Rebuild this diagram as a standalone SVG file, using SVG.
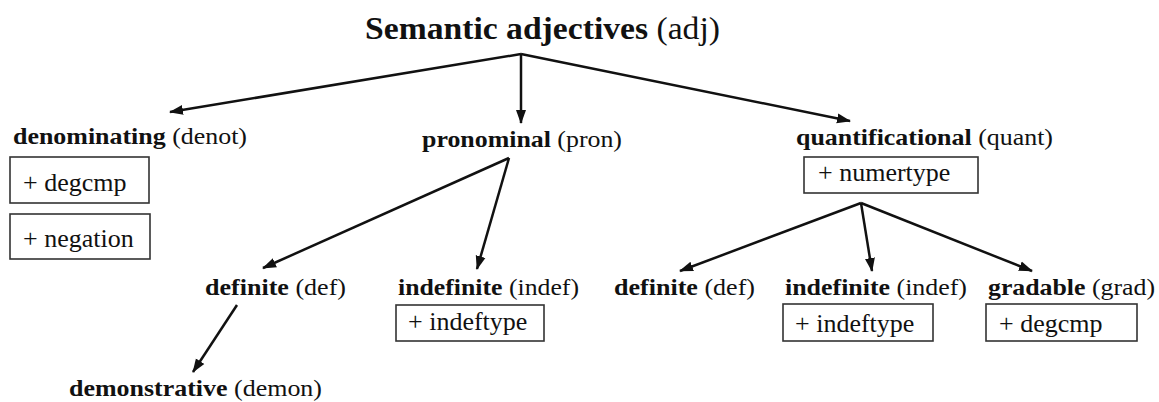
<svg xmlns="http://www.w3.org/2000/svg" width="1159" height="402" viewBox="0 0 1159 402">
<style>
text{font-family:"Liberation Serif","Times New Roman",serif;fill:#111;}
.t{font-size:31px;}
.l{font-size:24px;}
.b{font-weight:bold;}
.bx{font-size:26px;}
rect.box{fill:#fff;stroke:#333;stroke-width:1.6;}
.c line{stroke:#111;stroke-width:2.5;marker-end:url(#ah);}
</style>
<defs>
<marker id="ah" markerUnits="userSpaceOnUse" markerWidth="14" markerHeight="12" refX="13" refY="5" orient="auto" viewBox="0 0 14 10">
<path d="M0,0 L14,5 L0,10 z" fill="#111"/>
</marker>
</defs>
<rect x="0" y="0" width="1159" height="402" fill="#fff"/>
<g id="root"><text class="t" x="365" y="39" textLength="355" lengthAdjust="spacingAndGlyphs"><tspan class="b">Semantic adjectives</tspan> (adj)</text></g>
<g id="denot">
<text class="l" x="13" y="144" textLength="234" lengthAdjust="spacingAndGlyphs"><tspan class="b">denominating</tspan> (denot)</text>
<rect class="box" x="10" y="157" width="139" height="46"/>
<text class="bx" x="23" y="191">+ degcmp</text>
<rect class="box" x="10" y="214" width="140" height="45"/>
<text class="bx" x="23" y="247">+ negation</text>
</g>
<g id="pron"><text class="l" x="422" y="147" textLength="200" lengthAdjust="spacingAndGlyphs"><tspan class="b">pronominal</tspan> (pron)</text></g>
<g id="quant">
<text class="l" x="796" y="145" textLength="257" lengthAdjust="spacingAndGlyphs"><tspan class="b">quantificational</tspan> (quant)</text>
<rect class="box" x="804" y="157" width="174" height="36"/>
<text class="bx" x="818" y="181">+ numertype</text>
</g>
<g id="pron-def"><text class="l" x="205" y="295" textLength="141" lengthAdjust="spacingAndGlyphs"><tspan class="b">definite</tspan> (def)</text></g>
<g id="pron-indef">
<text class="l" x="398" y="295" textLength="181" lengthAdjust="spacingAndGlyphs"><tspan class="b">indefinite</tspan> (indef)</text>
<rect class="box" x="396" y="305" width="148" height="36"/>
<text class="bx" x="408" y="330">+ indeftype</text>
</g>
<g id="demon"><text class="l" x="69" y="396" textLength="253" lengthAdjust="spacingAndGlyphs"><tspan class="b">demonstrative</tspan> (demon)</text></g>
<g id="quant-def"><text class="l" x="614" y="295" textLength="141" lengthAdjust="spacingAndGlyphs"><tspan class="b">definite</tspan> (def)</text></g>
<g id="quant-indef">
<text class="l" x="785" y="295" textLength="182" lengthAdjust="spacingAndGlyphs"><tspan class="b">indefinite</tspan> (indef)</text>
<rect class="box" x="783" y="304" width="150" height="37"/>
<text class="bx" x="795" y="332">+ indeftype</text>
</g>
<g id="grad">
<text class="l" x="988" y="295" textLength="167" lengthAdjust="spacingAndGlyphs"><tspan class="b">gradable</tspan> (grad)</text>
<rect class="box" x="986" y="304" width="151" height="37"/>
<text class="bx" x="999" y="332">+ degcmp</text>
</g>
<g id="connectors" class="c">
<line x1="521" y1="54" x2="170" y2="112"/>
<line x1="521" y1="54" x2="521" y2="123"/>
<line x1="521" y1="54" x2="850" y2="121"/>
<line x1="509" y1="158" x2="263" y2="268"/>
<line x1="509" y1="158" x2="477" y2="269"/>
<line x1="237" y1="305" x2="193" y2="372"/>
<line x1="861" y1="203" x2="680" y2="271"/>
<line x1="861" y1="203" x2="872" y2="271"/>
<line x1="861" y1="203" x2="1032" y2="271"/>
</g>
</svg>
